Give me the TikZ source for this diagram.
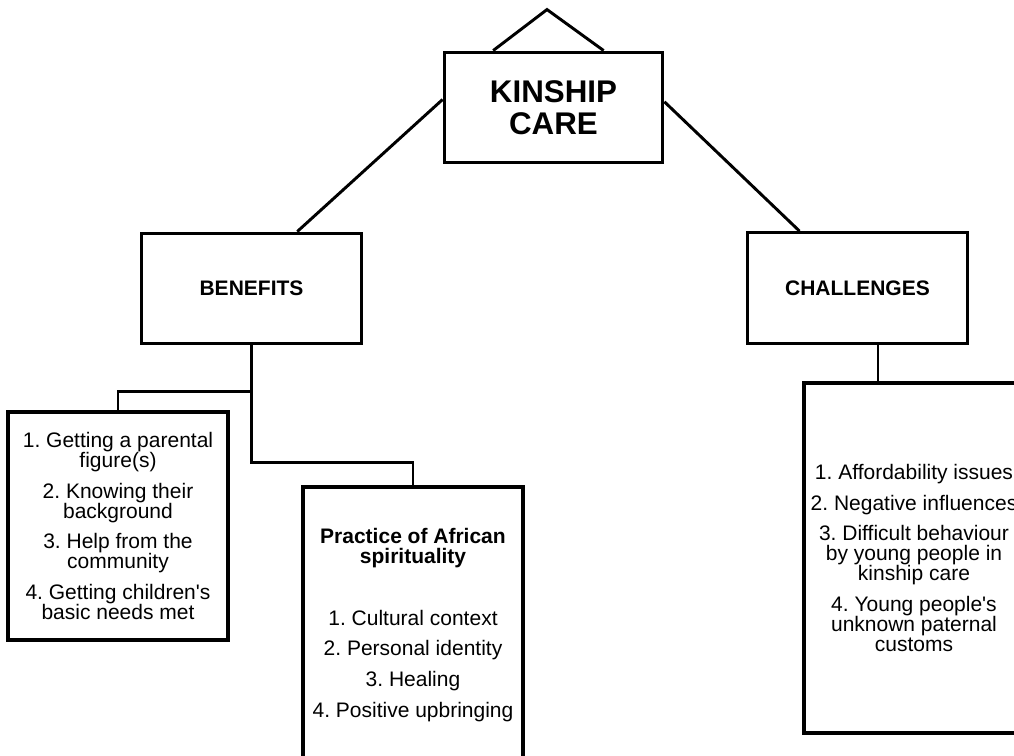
\documentclass[tikz,border=0pt]{standalone}
\usepackage{fontspec}
\setmainfont{Liberation Sans}
\usetikzlibrary{calc}
\frenchspacing
\tikzset{
  caixa/.style={
    rectangle,
    draw=black, line width=2.4pt,
    minimum width=165pt,
    minimum height=83pt,
    inner sep=0pt,
    align=center,
    font=\fontsize{15.75}{15}\selectfont},
  titulo/.style={caixa, font=\bfseries\fontsize{15.75}{15}\selectfont},
  line/.style={draw, line width=2.2pt},
}

\begin{document}
\begin{tikzpicture}[x=0.75pt, y=-0.75pt]
  \useasboundingbox (0,0) rectangle (1014,756);
  \clip (0,0) rectangle (1014,756);
     \node[caixa, minimum width=164pt, font=\bfseries\fontsize{23.5}{24}\selectfont]
       (kinship) at (553.5,107.5) {KINSHIP\\CARE};
     \node[titulo] (benefits) at (251.5,288.5) {BENEFITS};
     \node[titulo] (challenges) at (857.5,288) {CHALLENGES};
     \node[caixa, minimum height=171pt] (benlist) at (118,526)
       {1. Getting a parental\\figure(s)\\[8pt]
        2. Knowing their\\background\\[8pt]
        3. Help from the\\community\\[8pt]
        4. Getting children\textquotesingle s\\basic needs met};
     \node[caixa, minimum height=207pt] (spirit) at (413,625)
       {\textbf{Practice of African}\\\textbf{spirituality}\\[31pt]
        1. Cultural context\\[8pt]
        2. Personal identity\\[8pt]
        3. Healing\\[8pt]
        4. Positive upbringing};
     \node[caixa, minimum height=262.5pt] (challist) at (914,558)
       {1. Affordability issues\\[8pt]
        2. Negative influences\\[8pt]
        3. Difficult behaviour\\by young people in\\kinship care\\[8pt]
        4. Young people\textquotesingle s\\unknown paternal\\customs};
  % roof over the top box
  \draw[line] ($(kinship.north west)!0.228!(kinship.north east)$)
    -- ($(kinship.north)+(-6.5,-41)$)
    -- ($(kinship.north west)!0.726!(kinship.north east)$);
  \draw[line] ($(kinship.north west)!0.43!(kinship.south west)$)
    -- ($(benefits.north west)!0.705!(benefits.north east)$);
  \draw[line] ($(kinship.north east)!0.45!(kinship.south east)$)
    -- ($(challenges.north west)!0.24!(challenges.north east)$);
  \draw[line] (benefits.south) -- ++(0,46) -| (benlist.north);
  \draw[line] (benefits.south) |- ($(spirit.north)+(0,-23)$) -- (spirit.north);
  \coordinate (cjoin) at ($(challenges.south)+(20.5,0)$);
  \draw[line] (cjoin) -- (cjoin |- challist.north);
\end{tikzpicture}
\end{document}
